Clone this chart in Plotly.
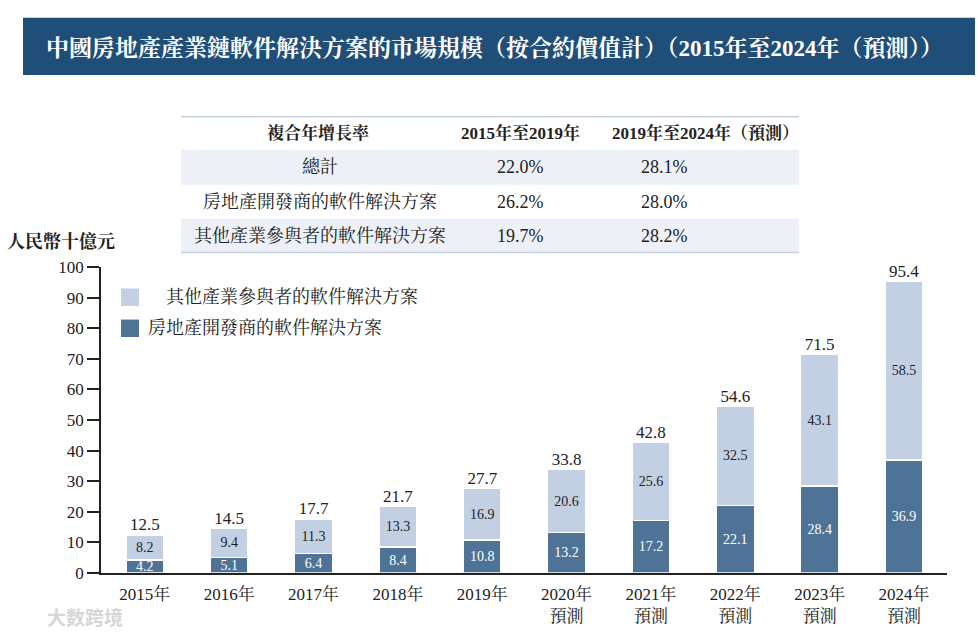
import plotly.graph_objects as go

# ---------------- data ----------------
years = ["2015年", "2016年", "2017年", "2018年", "2019年",
         "2020年<br>預測", "2021年<br>預測", "2022年<br>預測", "2023年<br>預測", "2024年<br>預測"]
developers = [4.2, 5.1, 6.4, 8.4, 10.8, 13.2, 17.2, 22.1, 28.4, 36.9]
others = [8.2, 9.4, 11.3, 13.3, 16.9, 20.6, 25.6, 32.5, 43.1, 58.5]
totals = [12.5, 14.5, 17.7, 21.7, 27.7, 33.8, 42.8, 54.6, 71.5, 95.4]

series_names = ["其他產業參與者的軟件解決方案", "房地產開發商的軟件解決方案"]
title_text = "中國房地產產業鏈軟件解決方案的市場規模（按合約價值計）（2015年至2024年（預測））"
y_title = "人民幣十億元"

table_header = ["複合年增長率", "2015年至2019年", "2019年至2024年（預測）"]
table_rows = ["總計", "房地產開發商的軟件解決方案", "其他產業參與者的軟件解決方案"]
cagr_2015_2019 = ["22.0%", "26.2%", "19.7%"]
cagr_2019_2024 = ["28.1%", "28.0%", "28.2%"]

watermark = "大数跨境"

# ---------------- style ----------------
W, H = 978, 644
FONT = "Liberation Serif, Noto Serif CJK TC, Noto Sans CJK TC, serif"
DARK = "#4F7397"
LIGHT = "#C3CFE3"
BANNER = "#1F4E79"
TEXT = "#222222"

def px(x):
    return x / W

def py(y):
    return 1 - y / H

fig = go.Figure()

fig.add_trace(go.Bar(
    x=years, y=developers, name=series_names[1],
    marker=dict(color=DARK, line=dict(color="white", width=1.5)),
    text=[f"{v:.1f}" for v in developers], textposition="inside",
    insidetextanchor="middle", constraintext="none",
    textfont=dict(color="white", size=14, family=FONT),
    width=0.45, showlegend=False, hoverinfo="skip",
))
fig.add_trace(go.Bar(
    x=years, y=others, name=series_names[0],
    marker=dict(color=LIGHT, line=dict(color="white", width=1.5)),
    text=[f"{v:.1f}" for v in others], textposition="inside",
    insidetextanchor="middle", constraintext="none",
    textfont=dict(color=TEXT, size=14, family=FONT),
    width=0.45, showlegend=False, hoverinfo="skip",
))
fig.add_trace(go.Scatter(
    x=years, y=totals, mode="text",
    text=[f"{v:.1f}" for v in totals], textposition="top center",
    textfont=dict(color=TEXT, size=17, family=FONT),
    showlegend=False, hoverinfo="skip", cliponaxis=False,
))

shapes = []
annotations = []

# title banner
shapes.append(dict(type="rect", xref="paper", yref="paper",
                   x0=px(23), x1=px(975), y0=py(68), y1=py(9),
                   fillcolor=BANNER, line=dict(width=0), layer="below"))
annotations.append(dict(xref="paper", yref="paper", x=px(495), y=py(40),
                        text=f"<b>{title_text}</b>", showarrow=False,
                        font=dict(color="white", size=23, family=FONT),
                        xanchor="center", yanchor="middle"))

# CAGR table
tx0, tx1 = 181, 799
row_edges = [111, 145, 181, 216, 251]
for i in (1, 3):
    shapes.append(dict(type="rect", xref="paper", yref="paper",
                       x0=px(tx0), x1=px(tx1), y0=py(row_edges[i + 1]), y1=py(row_edges[i]),
                       fillcolor="#EDF1F7", line=dict(width=0), layer="below"))
for yl in (row_edges[0], row_edges[-1]):
    shapes.append(dict(type="line", xref="paper", yref="paper",
                       x0=px(tx0), x1=px(tx1), y0=py(yl), y1=py(yl),
                       line=dict(color="#C5D0E0", width=1.5)))
head_x = [318, 520, 705]
body_x = [320, 520, 664]
for c, h in enumerate(table_header):
    annotations.append(dict(xref="paper", yref="paper", x=px(head_x[c]), y=py(128),
                            text=f"<b>{h}</b>", showarrow=False,
                            font=dict(color=TEXT, size=17, family=FONT),
                            xanchor="center", yanchor="middle"))
for r in range(3):
    yc = (row_edges[r + 1] + row_edges[r + 2]) / 2
    for c, txt in enumerate([table_rows[r], cagr_2015_2019[r], cagr_2019_2024[r]]):
        annotations.append(dict(xref="paper", yref="paper", x=px(body_x[c]), y=py(yc),
                                text=txt, showarrow=False,
                                font=dict(color=TEXT, size=18, family=FONT),
                                xanchor="center", yanchor="middle"))

# legend
leg = [(LIGHT, series_names[0], 297, 164), (DARK, series_names[1], 329, 146)]
for color, name, yc, txx in leg:
    shapes.append(dict(type="rect", xref="paper", yref="paper",
                       x0=px(121), x1=px(139), y0=py(yc + 9), y1=py(yc - 9),
                       fillcolor=color, line=dict(width=0)))
    annotations.append(dict(xref="paper", yref="paper", x=px(txx), y=py(yc),
                            text=name, showarrow=False,
                            font=dict(color=TEXT, size=18, family=FONT),
                            xanchor="left", yanchor="middle"))

# y-axis title
annotations.append(dict(xref="paper", yref="paper", x=px(5), y=py(240),
                        text=f"<b>{y_title}</b>", showarrow=False,
                        font=dict(color=TEXT, size=18, family=FONT),
                        xanchor="left", yanchor="middle"))

# faint watermark
annotations.append(dict(xref="paper", yref="paper", x=px(45), y=py(626),
                        text=f"<b>{watermark}</b>", showarrow=False,
                        font=dict(color="#D6D6D6", size=19, family="Noto Sans CJK SC"),
                        xanchor="left", yanchor="middle"))

fig.update_layout(
    width=W, height=H,
    margin=dict(l=0, r=0, t=0, b=0),
    paper_bgcolor="white", plot_bgcolor="white",
    barmode="stack",
    font=dict(family=FONT, color=TEXT),
    shapes=shapes, annotations=annotations,
    xaxis=dict(domain=[px(101), px(947)], range=[-0.52, 9.51],
               showline=True, linecolor="#222222", linewidth=1.5,
               ticks="", ticklabelstandoff=5,
               tickfont=dict(size=17, family=FONT, color=TEXT),
               showgrid=False, zeroline=False, fixedrange=True),
    yaxis=dict(domain=[py(581), py(266)], range=[0, 100],
               tickvals=list(range(0, 101, 10)),
               showline=True, linecolor="#222222", linewidth=1.5,
               ticks="outside", ticklen=12, tickwidth=1.5, tickcolor="#222222",
               tickfont=dict(size=17, family=FONT, color=TEXT),
               showgrid=False, zeroline=False, fixedrange=True),
)

fig.write_html("out.html", config={"displayModeBar": False},
               post_script="document.body.style.margin='0';document.body.style.overflow='hidden';")
